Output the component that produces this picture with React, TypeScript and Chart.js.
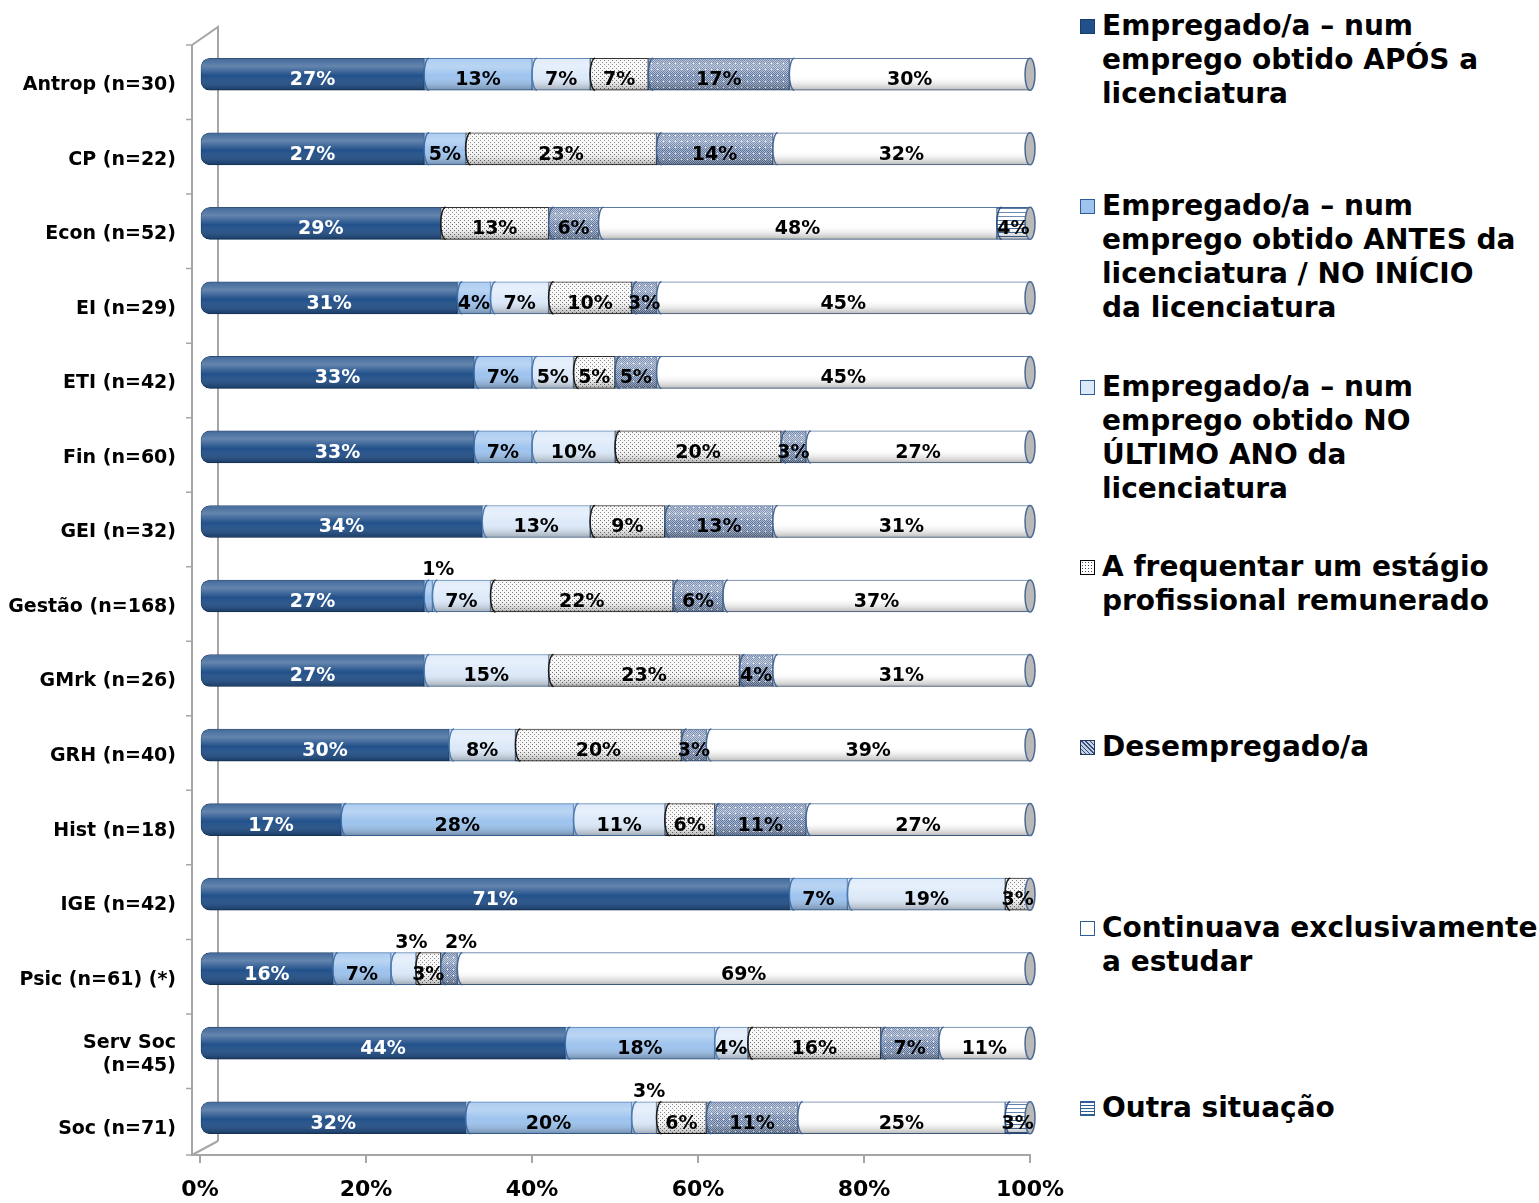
import React, { useEffect, useRef } from "react";
import { Chart, registerables } from "chart.js";

Chart.register(...registerables);

const categories: (string | string[])[] = [
  "Antrop (n=30)",
  "CP (n=22)",
  "Econ (n=52)",
  "EI (n=29)",
  "ETI (n=42)",
  "Fin (n=60)",
  "GEI (n=32)",
  "Gestão (n=168)",
  "GMrk (n=26)",
  "GRH (n=40)",
  "Hist (n=18)",
  "IGE (n=42)",
  "Psic (n=61) (*)",
  ["Serv Soc", "(n=45)"],
  "Soc (n=71)",
];

const seriesNames = [
  "Empregado/a – num\nemprego obtido APÓS a\nlicenciatura",
  "Empregado/a – num\nemprego obtido ANTES da\nlicenciatura / NO INÍCIO\nda licenciatura",
  "Empregado/a – num\nemprego obtido NO\nÚLTIMO ANO da\nlicenciatura",
  "A frequentar um estágio\nprofissional remunerado",
  "Desempregado/a",
  "Continuava exclusivamente\na estudar",
  "Outra situação",
];

const empregadoApos = [27, 27, 29, 31, 33, 33, 34, 27, 27, 30, 17, 71, 16, 44, 32];
const empregadoAntes = [13, 5, 0, 4, 7, 7, 0, 1, 0, 0, 28, 7, 7, 18, 20];
const empregadoUltimoAno = [7, 0, 0, 7, 5, 10, 13, 7, 15, 8, 11, 19, 3, 4, 3];
const estagio = [7, 23, 13, 10, 5, 20, 9, 22, 23, 20, 6, 3, 3, 16, 6];
const desempregado = [17, 14, 6, 3, 5, 3, 13, 6, 4, 3, 11, 0, 2, 7, 11];
const estudar = [30, 32, 48, 45, 45, 27, 31, 37, 31, 39, 27, 0, 69, 11, 25];
const outra = [0, 0, 4, 0, 0, 0, 0, 0, 0, 0, 0, 0, 0, 0, 3];

const xTicks = [0, 20, 40, 60, 80, 100];

// labels drawn above the bar: [categoryIndex, datasetIndex, dx]
const labelsAbove: [number, number, number][] = [
  [7, 1, 10],
  [12, 2, 8],
  [12, 4, 12],
  [14, 2, 5],
];

const FONT = "'DejaVu Sans', Verdana, sans-serif";

function makePattern(kind: string): CanvasPattern | string {
  const c = document.createElement("canvas");
  const ctx = c.getContext("2d");
  if (!ctx) return "#ccc";
  if (kind === "dots") {
    c.width = 4;
    c.height = 4;
    ctx.fillStyle = "#f6f6f6";
    ctx.fillRect(0, 0, 4, 4);
    ctx.fillStyle = "#6a6a6a";
    ctx.fillRect(0, 0, 1, 1);
    ctx.fillRect(2, 2, 1, 1);
  } else if (kind === "cross") {
    c.width = 6;
    c.height = 6;
    ctx.fillStyle = "#aab9d2";
    ctx.fillRect(0, 0, 6, 6);
    ctx.fillStyle = "#5a7199";
    for (let x = 0; x < 6; x++)
      for (let y = 0; y < 6; y++) if ((x + y) % 2 === 0) ctx.fillRect(x, y, 1, 1);
    ctx.fillStyle = "#ffffff";
    ctx.fillRect(3, 3, 1, 1);
  } else {
    c.width = 4;
    c.height = 4;
    ctx.fillStyle = "#ffffff";
    ctx.fillRect(0, 0, 4, 4);
    ctx.fillStyle = "#3b6399";
    ctx.fillRect(0, 0, 4, 1);
  }
  const p = ctx.createPattern(c, "repeat");
  return p || "#ccc";
}

const borderColors = ["#1a3c69", "#3f6fa8", "#4d7ab0", "#1a1a1a", "#3f5f8c", "#4a6a94", "#2d5286"];

const legendSwatches: React.CSSProperties[] = [
  { background: "#21508a", border: "1px solid #1a3c69" },
  { background: "#9dc3ee", border: "1px solid #2e5d99" },
  { background: "#dce9f9", border: "1px solid #2e5d99" },
  { background: "radial-gradient(#444 0.8px, transparent 1px) 0 0/3px 3px, #fff", border: "1px solid #000" },
  { background: "repeating-linear-gradient(45deg,#34507a 0 1px,#c5d0e2 1px 3px)", border: "1px solid #1f3864" },
  { background: "#ffffff", border: "1px solid #2e5d99" },
  { background: "repeating-linear-gradient(0deg,#2e5d99 0 1px,#fff 1px 3px)", border: "1px solid #2e5d99" },
];

export default function App() {
  const canvasRef = useRef<HTMLCanvasElement | null>(null);

  useEffect(() => {
    document.body.style.margin = "0";
    const canvas = canvasRef.current;
    if (!canvas) return;

    const series = [empregadoApos, empregadoAntes, empregadoUltimoAno, estagio, desempregado, estudar, outra];
    const fills: (string | CanvasPattern)[] = [
      "#21508a",
      "#9dc3ee",
      "#dce9f9",
      makePattern("dots"),
      makePattern("cross"),
      "#ffffff",
      makePattern("lines"),
    ];

    const datasets = series.map((data, i) => ({
      label: seriesNames[i],
      data,
      backgroundColor: fills[i],
      borderColor: borderColors[i],
      borderWidth: (ctx: any) => (ctx.raw > 0 ? 1 : 0),
      borderSkipped: false as const,
      borderRadius: i === 0 ? { topLeft: 9, bottomLeft: 9, topRight: 0, bottomRight: 0 } : 0,
      barThickness: 32,
      clip: { left: false, top: false, bottom: false, right: 0 },
    }));

    const framePlugin = {
      id: "frame3d",
      beforeDatasetsDraw(chart: any) {
        const { ctx, chartArea } = chart;
        const { left: L, top: T, bottom: B } = chartArea;
        const yScale = chart.scales.y;
        ctx.save();
        ctx.strokeStyle = "#a6a6a6";
        ctx.lineWidth = 2;
        ctx.beginPath();
        ctx.moveTo(L - 8, T + 8);
        ctx.lineTo(L - 8, B);
        ctx.lineTo(L, B);
        ctx.moveTo(L - 8, T + 8);
        ctx.lineTo(L + 18, T - 10);
        ctx.lineTo(L + 18, B - 14);
        ctx.moveTo(L - 8, B);
        ctx.lineTo(L + 18, B - 14);
        ctx.stroke();
        ctx.lineWidth = 1.5;
        ctx.beginPath();
        for (let j = 0; j <= categories.length; j++) {
          const y =
            j === 0
              ? T + 8
              : j === categories.length
              ? B
              : (yScale.getPixelForValue(j - 1) + yScale.getPixelForValue(j)) / 2 + 8;
          ctx.moveTo(L - 14, y);
          ctx.lineTo(L - 8, y);
        }
        ctx.stroke();
        ctx.restore();
      },
    };

    const shadePlugin = {
      id: "shade3d",
      afterDatasetsDraw(chart: any) {
        const { ctx, chartArea } = chart;
        const xScale = chart.scales.x;
        ctx.save();
        ctx.beginPath();
        ctx.rect(0, 0, chartArea.right, chart.height);
        ctx.clip();
        chart.data.datasets.forEach((ds: any, i: number) => {
          const meta = chart.getDatasetMeta(i);
          meta.data.forEach((el: any, j: number) => {
            const v = ds.data[j];
            if (!v) return;
            const { x, y, base, height } = el.getProps(["x", "y", "base", "height"], true);
            const left = Math.min(x, base);
            const w = Math.abs(x - base);
            const top = y - height / 2;
            const g = ctx.createLinearGradient(0, top, 0, top + height);
            g.addColorStop(0, "rgba(255,255,255,0.15)");
            g.addColorStop(0.25, "rgba(255,255,255,0.3)");
            g.addColorStop(0.55, "rgba(255,255,255,0)");
            g.addColorStop(1, "rgba(0,0,0,0.28)");
            ctx.fillStyle = g;
            if (i === 0) {
              ctx.beginPath();
              (ctx as any).roundRect(left, top, w, height, [9, 0, 0, 9]);
              ctx.fill();
            } else {
              ctx.fillRect(left, top, w, height);
            }
            let prevNonZero = false;
            for (let k = 0; k < i; k++) if (chart.data.datasets[k].data[j] > 0) prevNonZero = true;
            if (prevNonZero) {
              ctx.beginPath();
              ctx.ellipse(base + 5, y, 5, height / 2, 0, Math.PI / 2, (3 * Math.PI) / 2);
              ctx.strokeStyle = borderColors[i];
              ctx.lineWidth = 1.5;
              ctx.stroke();
            }
          });
        });
        ctx.restore();
        ctx.save();
        const meta0 = chart.getDatasetMeta(0);
        meta0.data.forEach((el: any, j: number) => {
          let total = 0;
          chart.data.datasets.forEach((ds: any) => (total += ds.data[j] || 0));
          const xe = xScale.getPixelForValue(Math.min(total, 100));
          const { y, height } = el.getProps(["y", "height"], true);
          ctx.beginPath();
          ctx.ellipse(xe, y, 5, height / 2, 0, 0, Math.PI * 2);
          ctx.fillStyle = "#b9b9b9";
          ctx.fill();
          ctx.strokeStyle = "#4a6a94";
          ctx.lineWidth = 1.5;
          ctx.stroke();
        });
        ctx.restore();
      },
    };

    const labelPlugin = {
      id: "valueLabels",
      afterDatasetsDraw(chart: any) {
        const { ctx } = chart;
        ctx.save();
        ctx.font = `bold 19px ${FONT}`;
        ctx.textAlign = "center";
        ctx.textBaseline = "middle";
        chart.data.datasets.forEach((ds: any, i: number) => {
          const meta = chart.getDatasetMeta(i);
          meta.data.forEach((el: any, j: number) => {
            const v = ds.data[j];
            if (!v) return;
            const { x, y, base } = el.getProps(["x", "y", "base"], true);
            let cx = (Math.min(x, chart.chartArea.right) + base) / 2;
            let cy = y + 6;
            let color = i === 0 ? "#ffffff" : "#000000";
            const above = labelsAbove.find((a) => a[0] === j && a[1] === i);
            if (above) {
              cx += above[2];
              cy = y - 26;
              color = "#000000";
            }
            ctx.fillStyle = color;
            ctx.fillText(`${v}%`, cx, cy);
          });
        });
        ctx.restore();
      },
    };

    const chart = new Chart(canvas, {
      type: "bar",
      data: { labels: categories as any, datasets: datasets as any },
      options: {
        indexAxis: "y",
        responsive: false,
        animation: false,
        maintainAspectRatio: false,
        layout: { padding: { top: 37, right: 40, left: 0, bottom: 0 } },
        plugins: {
          legend: { display: false },
          tooltip: { enabled: false },
        },
        scales: {
          x: {
            stacked: true,
            min: 0,
            max: 100,
            afterBuildTicks: (scale: any) => {
              scale.ticks = xTicks.map((v) => ({ value: v }));
            },
            afterFit: (scale: any) => {
              scale.height = 48;
            },
            grid: {
              display: true,
              drawOnChartArea: false,
              drawTicks: true,
              tickLength: 8,
              color: "#a6a6a6",
              lineWidth: 2,
            },
            border: { display: true, color: "#a6a6a6", width: 2 },
            ticks: {
              padding: 14,
              color: "#000",
              font: { family: FONT, size: 22, weight: "bold" },
              callback: (v: any) => `${v}%`,
            },
          },
          y: {
            stacked: true,
            afterFit: (scale: any) => {
              scale.width = 200;
            },
            grid: { display: false },
            border: { display: false },
            ticks: {
              padding: 16,
              labelOffset: 11,
              color: "#000",
              font: { family: FONT, size: 19, weight: "bold" },
            },
          },
        },
      },
      plugins: [framePlugin, shadePlugin, labelPlugin],
    });

    return () => chart.destroy();
  }, []);

  return (
    <div style={{ position: "relative", width: 1539, height: 1203, background: "#fff" }}>
      <canvas ref={canvasRef} width={1078} height={1203} style={{ position: "absolute", left: 0, top: 0 }} />
      <div style={{ position: "absolute", left: 1080, top: 0, width: 459 }}>
        {seriesNames.map((name, i) => (
          <div
            key={i}
            style={{
              position: "absolute",
              top: 9 + i * 180.3,
              left: 0,
              display: "flex",
              alignItems: "flex-start",
            }}
          >
            <div
              style={{
                width: 15,
                height: 15,
                marginTop: 10,
                marginRight: 7,
                boxSizing: "border-box",
                flex: "0 0 auto",
                ...legendSwatches[i],
              }}
            />
            <div
              style={{
                fontFamily: FONT,
                fontWeight: "bold",
                fontSize: 28,
                lineHeight: "34px",
                whiteSpace: "pre",
                color: "#000",
              }}
            >
              {name}
            </div>
          </div>
        ))}
      </div>
    </div>
  );
}
